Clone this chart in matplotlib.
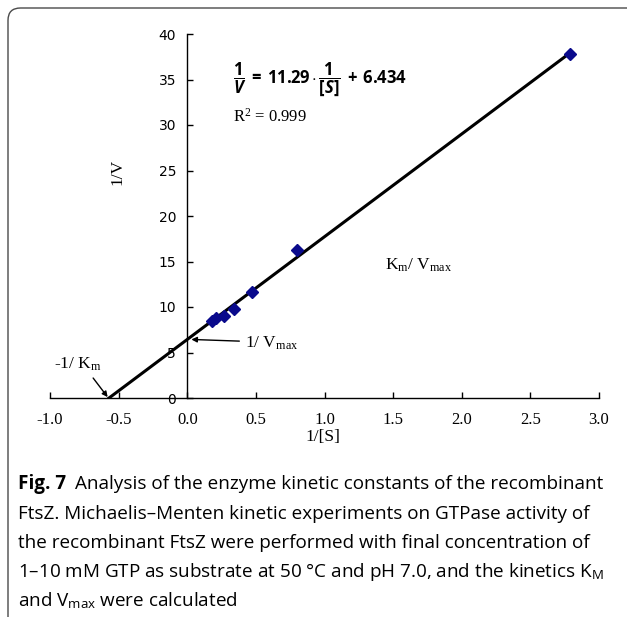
import matplotlib
matplotlib.use("Agg")
import matplotlib.pyplot as plt
import numpy as np
from matplotlib.patches import FancyBboxPatch

# ------------------------------------------------------------------
# Data
# ------------------------------------------------------------------
inv_s = [0.18, 0.21, 0.27, 0.34, 0.47, 0.80, 2.79]
inv_v = [8.5, 8.8, 9.0, 9.8, 11.6, 16.3, 37.8]
slope = 11.29
intercept = 6.434
x_ticks = [-1.0, -0.5, 0.0, 0.5, 1.0, 1.5, 2.0, 2.5, 3.0]
y_ticks = [0, 5, 10, 15, 20, 25, 30, 35, 40]

caption_lines = [
    "FtsZ. Michaelis\u2013Menten kinetic experiments on GTPase activity of",
    "the recombinant FtsZ were performed with final concentration of",
    "1\u201310 mM GTP as substrate at 50 \u00b0C and pH 7.0, and the kinetics K$_\\mathregular{M}$",
    "and V$_\\mathregular{max}$ were calculated",
]

plt.rcParams["axes.unicode_minus"] = False
plt.rcParams["mathtext.fontset"] = "custom"
plt.rcParams["mathtext.rm"] = "Liberation Serif"
plt.rcParams["mathtext.it"] = "Liberation Serif:italic"
plt.rcParams["mathtext.bf"] = "Open Sans:bold"
plt.rcParams["mathtext.bfit"] = "Open Sans:bold:italic"

SERIF = "Liberation Serif"
SANS = "Open Sans"
CAP_SIZE = 13.6

fig = plt.figure(figsize=(6.27, 6.17), dpi=100)
ax = fig.add_axes([50 / 627, 1 - 398 / 617, 549 / 627, 364 / 617])

# regression line from x-intercept to last point
x0 = -intercept / slope
xs = np.array([x0, max(inv_s)])
ax.plot(xs, slope * xs + intercept, color="black", lw=2.2, zorder=2)
ax.plot(inv_s, inv_v, ls="none", marker="D", ms=6, color="#0a0a8c", zorder=3)

ax.set_xlim(-1.0, 3.0)
ax.set_ylim(0, 40)
ax.set_xticks(x_ticks)
ax.set_xticklabels([f"{t:.1f}" for t in x_ticks], fontfamily=SERIF, fontsize=12)
ax.set_yticks(y_ticks)
ax.set_yticklabels([str(t) for t in y_ticks], fontfamily=SERIF, fontsize=12)

ax.spines["left"].set_position(("data", 0))
ax.spines["top"].set_visible(False)
ax.spines["right"].set_visible(False)
for s in ("left", "bottom"):
    ax.spines[s].set_linewidth(1.0)
ax.tick_params(axis="y", direction="in", length=4, width=1, pad=8)
ax.tick_params(axis="x", direction="in", length=4, width=1, pad=10)
ax.patch.set_alpha(0)

ax.text(0.122, 0.62, "1/V", transform=ax.transAxes, rotation=90, ha="center",
        va="center", fontfamily=SERIF, fontsize=12.5)
ax.text(0.99, -4.3, "1/[S]", ha="center", va="center",
        fontfamily=SERIF, fontsize=12.5, clip_on=False)

# equation and R^2
ax.text(0.33, 35.0,
        r"$\mathbf{\dfrac{1}{\mathbfit{V}}\ =\ 11.29\cdot\dfrac{1}{[\mathbfit{S}]}\ +\ 6.434}$",
        ha="left", va="center", fontsize=12)
ax.text(0.33, 30.9, r"R$^\mathregular{2}$ = 0.999", ha="left", va="center",
        fontfamily=SERIF, fontsize=12)

ax.text(1.44, 14.6, r"K$_\mathregular{m}$/ V$_\mathregular{max}$", ha="left",
        va="center", fontfamily=SERIF, fontsize=12.5)

arrow = dict(arrowstyle="-|>", color="black", lw=1.0, mutation_scale=8,
             shrinkA=2, shrinkB=0)
ax.annotate(r"1/ V$_\mathregular{max}$", xy=(0.03, intercept), xytext=(0.42, 6.0),
            ha="left", va="center", fontfamily=SERIF, fontsize=12.5,
            arrowprops=dict(arrow, relpos=(0, 0.62)))
ax.annotate(r"-1/ K$_\mathregular{m}$", xy=(x0 - 0.01, 0.1), xytext=(-0.8, 3.7),
            ha="center", va="center", fontfamily=SERIF, fontsize=12.5,
            arrowprops=dict(arrow, relpos=(0.75, 0)))

# rounded frame around the figure panel
frame = FancyBboxPatch((8 / 627, -0.2), 1.2, 1.2 - 8 / 617,
                       boxstyle="round,pad=0,rounding_size=0.02",
                       transform=fig.transFigure, fill=False,
                       edgecolor="#4a4a4a", lw=1.0)
fig.add_artist(frame)

# caption
cap_x = 18 / 627
line_y = [484, 514, 543, 572, 601]
head = fig.text(cap_x, 1 - line_y[0] / 617, "Fig. 7", fontfamily=SANS,
                fontweight="bold", fontsize=CAP_SIZE, va="center", ha="left")
fig.canvas.draw()
bb = head.get_window_extent(fig.canvas.get_renderer())
fig.text(bb.x1 / 627 + 9 / 627, 1 - line_y[0] / 617,
         "Analysis of the enzyme kinetic constants of the recombinant",
         fontfamily=SANS, fontsize=CAP_SIZE, va="center", ha="left")
for txt, yy in zip(caption_lines, line_y[1:]):
    fig.text(cap_x, 1 - yy / 617, txt, fontfamily=SANS, fontsize=CAP_SIZE,
             va="center", ha="left")

fig.savefig("out.png", dpi=100)
